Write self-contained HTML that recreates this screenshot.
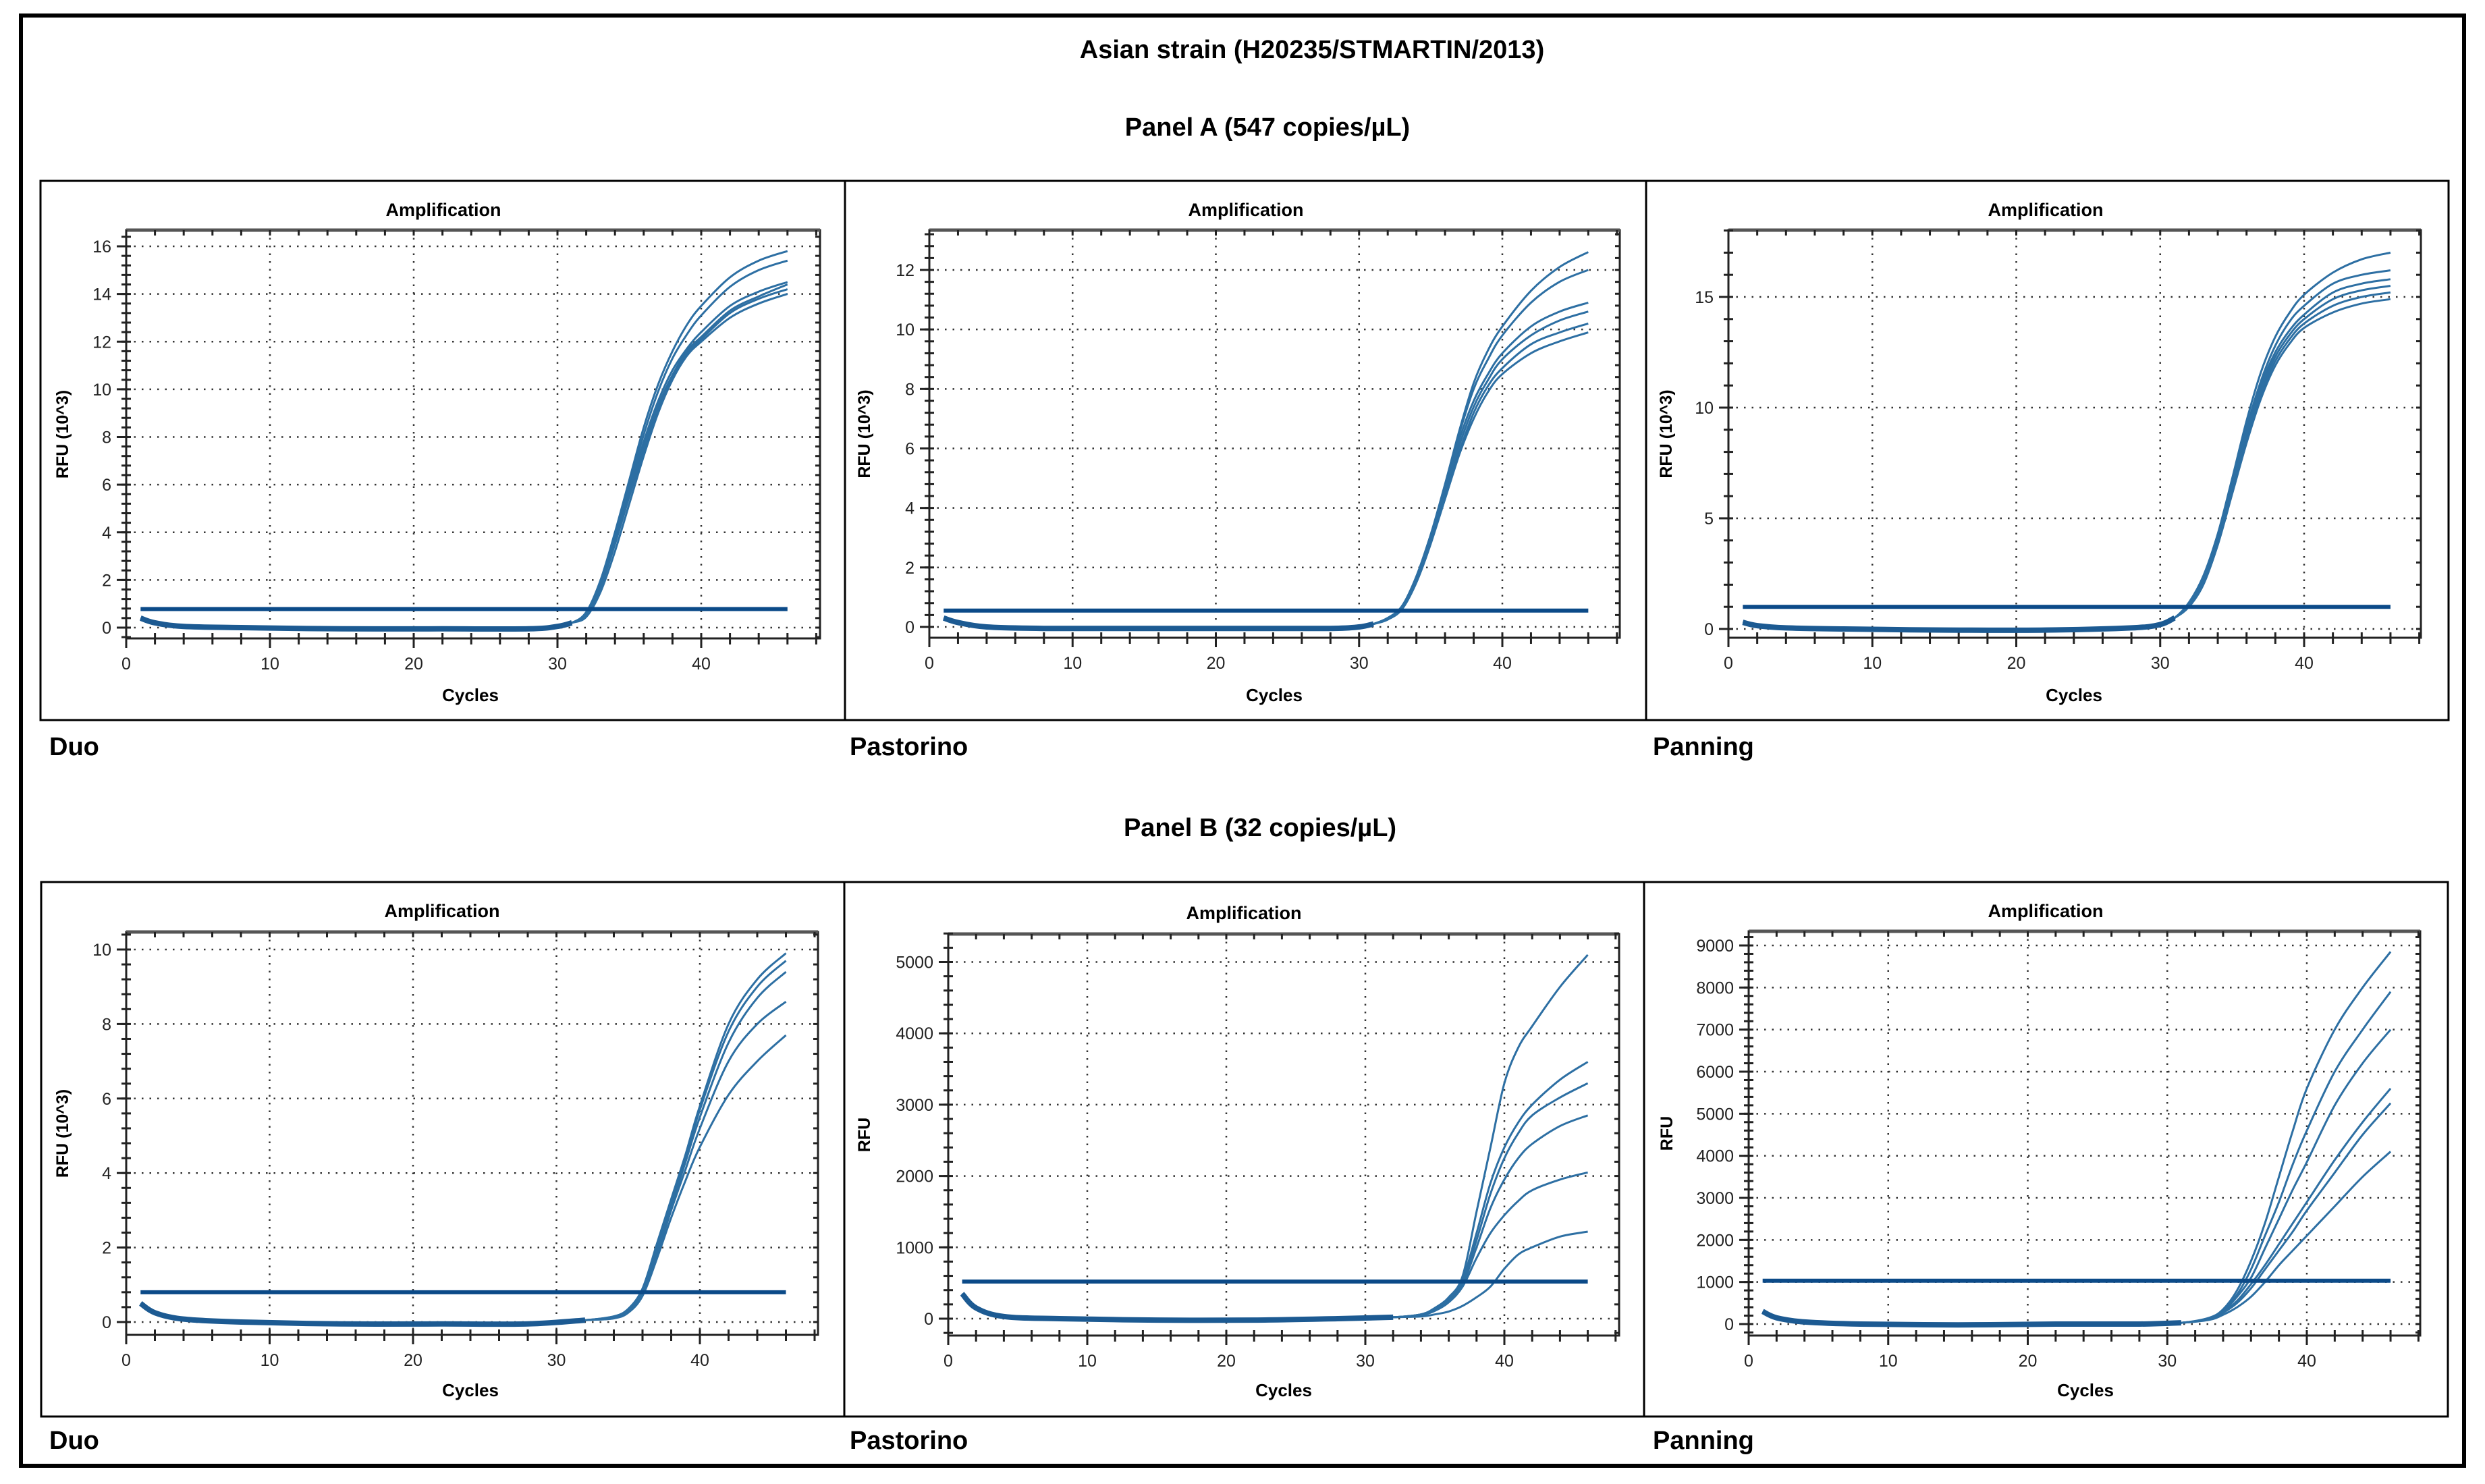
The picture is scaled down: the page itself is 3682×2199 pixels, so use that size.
<!DOCTYPE html>
<html><head><meta charset="utf-8">
<style>
html,body{margin:0;padding:0;background:#fff;}
body{width:3682px;height:2199px;position:relative;overflow:hidden;font-family:"Liberation Sans",sans-serif;}
svg{position:absolute;left:0;top:0;}
</style></head>
<body>
<svg id="fig" width="3682" height="2199" viewBox="0 0 3682 2199">
  <rect x="31" y="23" width="3620" height="2149" fill="#fff" stroke="#000" stroke-width="6"/>
  <text x="1944" y="86" text-anchor="middle" font-size="38" font-weight="bold">Asian strain (H20235/STMARTIN/2013)</text>
  <text x="1878" y="201" text-anchor="middle" font-size="38" font-weight="bold">Panel A (547 copies/µL)</text>
  <text x="1867" y="1239" text-anchor="middle" font-size="38" font-weight="bold">Panel B (32 copies/µL)</text>
  <rect x="60" y="268" width="3568" height="799" fill="none" stroke="#000" stroke-width="3"/>
  <line x1="1252" y1="268" x2="1252" y2="1067" stroke="#000" stroke-width="3"/>
  <line x1="2439" y1="268" x2="2439" y2="1067" stroke="#000" stroke-width="3"/>
  <rect x="61" y="1307" width="3566" height="792" fill="none" stroke="#000" stroke-width="3"/>
  <line x1="1251" y1="1307" x2="1251" y2="2099" stroke="#000" stroke-width="3"/>
  <line x1="2436" y1="1307" x2="2436" y2="2099" stroke="#000" stroke-width="3"/>
  <text x="73" y="1119" font-size="38" font-weight="bold">Duo</text>
  <text x="1259" y="1119" font-size="38" font-weight="bold">Pastorino</text>
  <text x="2449" y="1119" font-size="38" font-weight="bold">Panning</text>
  <text x="73" y="2147" font-size="38" font-weight="bold">Duo</text>
  <text x="1259" y="2147" font-size="38" font-weight="bold">Pastorino</text>
  <text x="2449" y="2147" font-size="38" font-weight="bold">Panning</text>
</svg>
<script>
// ---- data ----
const duoACycles=[1,2,4,8,15,22,28,30,31,32,33,34,35,36,37,38,39,40,42,44,46];
const duoABase=[0.4,0.2,0.05,0,-0.05,-0.05,-0.05,0.05,0.2];
const duoASeries=[
[0.65,2.0,4.0,6.2,8.4,10.2,11.6,12.7,13.5,14.7,15.4,15.8],
[0.6,1.9,3.9,6.0,8.1,9.9,11.3,12.3,13.1,14.3,15.0,15.4],
[0.6,1.9,3.8,5.8,7.8,9.5,10.8,11.7,12.4,13.5,14.1,14.5],
[0.55,1.8,3.6,5.6,7.6,9.3,10.6,11.6,12.2,13.3,13.9,14.4],
[0.5,1.7,3.5,5.5,7.4,9.1,10.5,11.5,12.1,13.2,13.8,14.2],
[0.45,1.5,3.2,5.2,7.2,9.0,10.4,11.4,12.0,13.0,13.6,14.0]];
const duoATicks=[0,2,4,6,8,10,12,14,16];
const duoAThreshold=0.78;

const pastACycles=[1,2,4,8,15,22,28,30,31,32,33,34,35,36,37,38,39,40,42,44,46];
const pastABase=[0.3,0.15,0.0,-0.05,-0.05,-0.05,-0.05,0.0,0.1];
const pastASeries=[
[0.3,0.7,1.7,3.1,4.8,6.6,8.2,9.3,10.1,11.3,12.1,12.6],
[0.3,0.7,1.7,3.1,4.7,6.5,8.0,9.0,9.8,10.9,11.6,12.0],
[0.3,0.7,1.6,3.0,4.6,6.3,7.6,8.5,9.2,10.1,10.6,10.9],
[0.3,0.65,1.6,2.9,4.5,6.1,7.4,8.3,9.0,9.8,10.3,10.6],
[0.25,0.6,1.5,2.8,4.4,5.9,7.2,8.1,8.7,9.5,9.9,10.2],
[0.25,0.6,1.5,2.8,4.3,5.8,7.0,7.9,8.5,9.2,9.6,9.9]];
const pastATicks=[0,2,4,6,8,10,12];
const pastAThreshold=0.55;

const panACycles=[1,2,4,8,15,22,28,30,31,32,33,34,35,36,37,38,39,40,42,44,46];
const panABase=[0.3,0.15,0.05,0,-0.05,-0.05,0.05,0.2,0.5];
const panASeries=[
[1.2,2.4,4.3,6.8,9.4,11.6,13.2,14.3,15.1,16.1,16.7,17.0],
[1.15,2.3,4.2,6.6,9.1,11.2,12.8,13.9,14.6,15.6,16.0,16.2],
[1.1,2.2,4.1,6.5,8.9,11.0,12.5,13.5,14.2,15.2,15.6,15.8],
[1.1,2.2,4.0,6.4,8.8,10.8,12.3,13.3,14.0,14.9,15.3,15.5],
[1.05,2.1,3.9,6.2,8.6,10.6,12.1,13.1,13.8,14.6,15.0,15.2],
[1.0,2.0,3.8,6.1,8.4,10.4,11.9,12.9,13.6,14.3,14.7,14.9]];
const panATicks=[0,5,10,15];
const panAThreshold=1.0;

const duoBCycles=[1,2,4,8,15,22,28,32,34,35,36,37,38,39,40,42,44,46];
const duoBBase=[0.5,0.25,0.08,0,-0.05,-0.05,-0.05,0.05];
const duoBSeries=[
[0.15,0.35,0.9,2.1,3.3,4.5,5.8,8.0,9.2,9.9],
[0.15,0.35,0.85,2.0,3.2,4.4,5.7,7.8,9.0,9.7],
[0.15,0.3,0.8,1.9,3.1,4.3,5.5,7.5,8.7,9.4],
[0.1,0.3,0.75,1.8,3.0,4.1,5.2,7.0,8.0,8.6],
[0.1,0.25,0.7,1.7,2.8,3.8,4.7,6.1,7.0,7.7]];
const duoBTicks=[0,2,4,6,8,10];
const duoBThreshold=0.8;

const pastBCycles=[1,2,4,8,15,22,28,32,34,35,36,37,38,39,40,41,42,44,46];
const pastBBase=[350,150,30,0,-20,-20,0,20];
const pastBSeries=[
[60,150,300,600,1500,2400,3300,3800,4100,4650,5100],
[60,140,280,550,1200,1900,2400,2750,3000,3350,3600],
[60,140,270,520,1100,1750,2250,2600,2850,3100,3300],
[50,120,250,480,1000,1550,1950,2250,2450,2700,2850],
[50,110,230,450,850,1200,1450,1650,1800,1950,2050],
[30,60,100,180,300,450,700,900,1000,1150,1220]];
const pastBTicks=[0,1000,2000,3000,4000,5000];
const pastBThreshold=520;

const panBCycles=[1,2,4,8,15,22,28,31,33,34,35,36,37,38,39,40,42,44,46];
const panBBase=[300,150,50,0,-20,0,0,30];
const panBSeries=[
[150,350,800,1500,2400,3500,4600,5600,7000,8000,8850],
[140,320,700,1300,2100,2900,3800,4600,6000,7000,7900],
[130,300,650,1100,1800,2500,3200,3850,5200,6200,7000],
[120,280,550,950,1400,1900,2400,2900,3900,4800,5600],
[120,270,500,850,1300,1750,2200,2700,3600,4500,5250],
[100,220,400,650,1000,1400,1750,2100,2800,3500,4100]];
const panBTicks=[0,1000,2000,3000,4000,5000,6000,7000,8000,9000];
const panBThreshold=1030;

const xTicks=[0,10,20,30,40];

// ---- layout ----
const panels=[
 {id:'duo-a',L:187,R:1215,T:341,B:946,x40:1039,y0:930,yRef:365,yRefV:16,cycles:duoACycles,base:duoABase,series:duoASeries,ticks:duoATicks,thr:duoAThreshold,ylab:'RFU (10^3)',ylx:101,tx:657,ty:320,cx:697,cy:1039,minor:5},
 {id:'pastorino-a',L:1377,R:2400,T:341,B:945,x40:2226,y0:929,yRef:400,yRefV:12,cycles:pastACycles,base:pastABase,series:pastASeries,ticks:pastATicks,thr:pastAThreshold,ylab:'RFU (10^3)',ylx:1289,tx:1846,ty:320,cx:1888,cy:1039,minor:5},
 {id:'panning-a',L:2561,R:3587,T:341,B:945,x40:3414,y0:932,yRef:440,yRefV:15,cycles:panACycles,base:panABase,series:panASeries,ticks:panATicks,thr:panAThreshold,ylab:'RFU (10^3)',ylx:2477,tx:3031,ty:320,cx:3073,cy:1039,minor:5},
 {id:'duo-b',L:187,R:1212,T:1381,B:1978,x40:1037,y0:1959,yRef:1407,yRefV:10,cycles:duoBCycles,base:duoBBase,series:duoBSeries,ticks:duoBTicks,thr:duoBThreshold,ylab:'RFU (10^3)',ylx:101,tx:655,ty:1359,cx:697,cy:2069,minor:5},
 {id:'pastorino-b',L:1405,R:2399,T:1384,B:1979,x40:2229,y0:1954,yRef:1425.5,yRefV:5000,cycles:pastBCycles,base:pastBBase,series:pastBSeries,ticks:pastBTicks,thr:pastBThreshold,ylab:'RFU',ylx:1289,tx:1843,ty:1362,cx:1902,cy:2069,minor:5},
 {id:'panning-b',L:2591,R:3586,T:1380,B:1979,x40:3418,y0:1962,yRef:1401,yRefV:9000,cycles:panBCycles,base:panBBase,series:panBSeries,ticks:panBTicks,thr:panBThreshold,ylab:'RFU',ylx:2478,tx:3031,ty:1359,cx:3090,cy:2069,minor:5}
];
const NS='http://www.w3.org/2000/svg';
const svg=document.getElementById('fig');
function mk(tag,attrs,parent){const e=document.createElementNS(NS,tag);for(const k in attrs)e.setAttribute(k,attrs[k]);(parent||svg).appendChild(e);return e;}
function crPath(pts){let d='M'+pts[0][0].toFixed(1)+','+pts[0][1].toFixed(1);
 for(let i=0;i<pts.length-1;i++){const p0=pts[i-1]||pts[i],p1=pts[i],p2=pts[i+1],p3=pts[i+2]||p2;
  const c1=[p1[0]+(p2[0]-p0[0])/6,p1[1]+(p2[1]-p0[1])/6],c2=[p2[0]-(p3[0]-p1[0])/6,p2[1]-(p3[1]-p1[1])/6];
  d+=' C'+c1[0].toFixed(1)+','+c1[1].toFixed(1)+' '+c2[0].toFixed(1)+','+c2[1].toFixed(1)+' '+p2[0].toFixed(1)+','+p2[1].toFixed(1);}
 return d;}

panels.forEach(p=>{
 const xs=c=>p.L+c*(p.x40-p.L)/40;
 const ys=v=>p.y0-v*(p.y0-p.yRef)/p.yRefV;
 const g=mk('g',{});
 
 
 const t=mk('text',{x:p.tx,y:p.ty,'text-anchor':'middle','font-size':27,'font-weight':'bold'},g);t.textContent='Amplification';
 
 
 // grid
 xTicks.forEach(c=>{if(c===0)return;const l=mk('line',{x1:xs(c),x2:xs(c),y1:p.T,y2:p.B,stroke:'#333','stroke-width':2.5,'stroke-dasharray':'2.5 9'},g);
  
  });
 p.ticks.forEach(v=>{const l=mk('line',{x1:p.L,x2:p.R,y1:ys(v),y2:ys(v),stroke:'#333','stroke-width':2.5,'stroke-dasharray':'2.5 9'},g);
  
  });
 // frame
 const fr=mk('rect',{x:p.L,y:p.T,width:p.R-p.L,height:p.B-p.T,fill:'none',stroke:'#222','stroke-width':3},g);
 
 
 mk('line',{x1:p.L,x2:p.R,y1:p.T,y2:p.T,stroke:'#555','stroke-width':5},g);
 // x ticks
 for(let c=0;xs(c)<=p.R+1;c+=2){const major=c%10===0;
  mk('line',{x1:xs(c),x2:xs(c),y1:p.B-8,y2:p.B+(major?14:9),stroke:'#222','stroke-width':3},g);
  mk('line',{x1:xs(c),x2:xs(c),y1:p.T,y2:p.T+8,stroke:'#222','stroke-width':3},g);}
 xTicks.forEach(c=>{const tl=mk('text',{x:xs(c),y:p.B+46,'text-anchor':'middle','font-size':25,fill:'#222'},g);tl.textContent=c;
  
  });
 // y ticks
 const step=p.ticks[1]-p.ticks[0];const ms=step/p.minor;
 for(let v=p.ticks[0]-ms*3;ys(v)>=p.T-1;v+=ms){if(ys(v)>p.B)continue;
  mk('line',{x1:p.L-7,x2:p.L+7,y1:ys(v),y2:ys(v),stroke:'#222','stroke-width':3},g);
  mk('line',{x1:p.R-7,x2:p.R,y1:ys(v),y2:ys(v),stroke:'#222','stroke-width':3},g);}
 p.ticks.forEach(v=>{mk('line',{x1:p.L-14,x2:p.L,y1:ys(v),y2:ys(v),stroke:'#222','stroke-width':3},g);
  const tl=mk('text',{x:p.L-22,y:ys(v)+9,'text-anchor':'end','font-size':25,fill:'#222'},g);tl.textContent=v;
  
  });
 const xl=mk('text',{x:p.cx,y:p.cy,'text-anchor':'middle','font-size':26,'font-weight':'bold'},g);xl.textContent='Cycles';
 
 
 const ym=(p.T+p.B)/2;
 const yl=mk('text',{x:p.ylx,y:ym,'text-anchor':'middle','font-size':25,'font-weight':'bold',transform:'rotate(-90 '+p.ylx+' '+ym+')'},g);yl.textContent=p.ylab;
 
 
 // curves
 p.series.forEach((s,i)=>{const vals=p.base.concat(s);
  const pts=p.cycles.map((c,j)=>[xs(c),ys(vals[j])]);
  const path=mk('path',{d:crPath(pts),fill:'none',stroke:'#2d6fa3','stroke-width':3},g);
  
  });
 // thicker baseline overlap
 const bpts=p.cycles.slice(0,p.base.length).map((c,j)=>[xs(c),ys(p.base[j])]);
 const bp=mk('path',{d:crPath(bpts),fill:'none',stroke:'#1c5a92','stroke-width':8},g);
 
 
 const th=mk('line',{x1:xs(1),x2:xs(46),y1:ys(p.thr),y2:ys(p.thr),stroke:'#0b4a88','stroke-width':6},g);
 
 
});
</script>
</body></html>
